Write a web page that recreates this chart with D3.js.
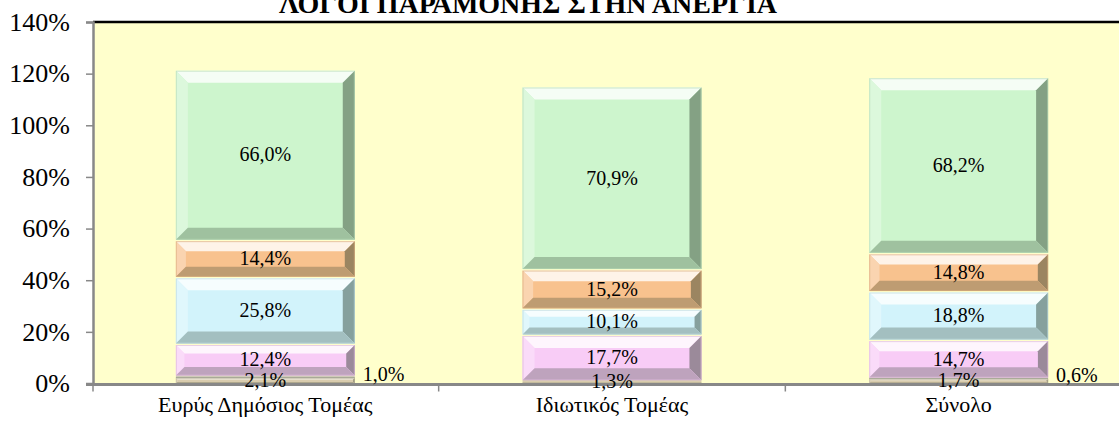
<!DOCTYPE html>
<html>
<head>
<meta charset="utf-8">
<script src="https://cdn.jsdelivr.net/npm/d3@7"></script>
<style>
  html, body { margin: 0; padding: 0; background: #ffffff; }
  svg { display: block; }
  text { font-family: "Liberation Serif", "Times New Roman", serif; fill: #000; }
</style>
</head>
<body>
<svg id="chart" width="1119" height="421"></svg>
<script>
// Reasons for remaining unemployed, by sector (stacked shares)
const categories = ["Ευρύς Δημόσιος Τομέας", "Ιδιωτικός Τομέας", "Σύνολο"];
const seriesA = [2.1, 1.3, 1.7];    // bottom thin segment
const seriesB = [1.0, 0.0, 0.6];    // thin segment, labelled beside the bar
const seriesC = [12.4, 17.7, 14.7]; // pink
const seriesD = [25.8, 10.1, 18.8]; // light blue
const seriesE = [14.4, 15.2, 14.8]; // orange
const seriesF = [66.0, 70.9, 68.2]; // green
const yTicks = [0, 20, 40, 60, 80, 100, 120, 140];
const title = "ΛΟΓΟΙ ΠΑΡΑΜΟΝΗΣ ΣΤΗΝ ΑΝΕΡΓΙΑ";

const seriesList = [
  { key: "a", values: seriesA, color: "#d9ccae", side: false },
  { key: "b", values: seriesB, color: "#cfcbb8", side: true },
  { key: "c", values: seriesC, color: "#f8ccf6", side: false },
  { key: "d", values: seriesD, color: "#d2f3fb", side: false },
  { key: "e", values: seriesE, color: "#f8c28e", side: false },
  { key: "f", values: seriesF, color: "#cdf5cd", side: false }
];

const W = 1119, H = 421;
const plot = { left: 93, top: 22, bottom: 383.5, right: 1132 };
const serif = '"Liberation Serif", "Times New Roman", serif';

const svg = d3.select("#chart");

const rows = categories.map((c, i) => {
  const r = { cat: c };
  seriesList.forEach(s => r[s.key] = s.values[i]);
  return r;
});
const stack = d3.stack().keys(seriesList.map(s => s.key))(rows);

const y = d3.scaleLinear().domain([0, 140]).range([plot.bottom, plot.top]);
const x = d3.scaleBand().domain(categories).range([plot.left - 1, plot.right])
  .paddingInner(0.484).paddingOuter(0.242);

// plot background
svg.append("rect")
  .attr("x", plot.left).attr("y", plot.top)
  .attr("width", W - plot.left).attr("height", plot.bottom - plot.top)
  .attr("fill", "#ffffcc");

// top border of plot area
svg.append("line")
  .attr("x1", plot.left).attr("x2", W)
  .attr("y1", plot.top).attr("y2", plot.top)
  .attr("stroke", "#000").attr("stroke-width", 2.5);

// title (partly above the canvas)
svg.append("text")
  .attr("x", 528).attr("y", 13)
  .attr("text-anchor", "middle")
  .style("font-family", serif)
  .attr("font-size", 28).attr("font-weight", "bold")
  .text(title);

// bevelled segment drawing
function shade(c, k) { return d3.interpolateRgb(c, k > 0 ? "#ffffff" : "#2a3a2a")(Math.abs(k)); }

const gBars = svg.append("g");
stack.forEach((layer, li) => {
  const s = seriesList[li];
  layer.forEach((d, i) => {
    const v = d[1] - d[0];
    if (v <= 0) return;
    const x0 = x(categories[i]), w = x.bandwidth();
    const yTop = y(d[1]), yBot = y(d[0]);
    const h = yBot - yTop;
    const g = gBars.append("g");
    const gap = h > 6 ? 1.5 : 0;
    const t = yTop + gap, bH = h - gap;
    const b = Math.max(0.5, Math.min(12, bH * 0.28));
    // face
    g.append("rect").attr("x", x0).attr("y", t).attr("width", w).attr("height", bH)
      .attr("fill", s.color);
    if (bH < 4) {
      g.append("rect").attr("x", x0).attr("y", t + bH - 1).attr("width", w).attr("height", 1)
        .attr("fill", shade(s.color, -0.25));
      return;
    }
    const L = x0, R = x0 + w, T = t, B = t + bH;
    // top highlight
    g.append("polygon")
      .attr("points", [[L, T], [R, T], [R - b, T + b], [L + b, T + b]].join(" "))
      .attr("fill", shade(s.color, 0.8));
    // left edge
    g.append("polygon")
      .attr("points", [[L, T], [L + b, T + b], [L + b, B - b], [L, B]].join(" "))
      .attr("fill", shade(s.color, 0.3));
    // right edge
    g.append("polygon")
      .attr("points", [[R, T], [R, B], [R - b, B - b], [R - b, T + b]].join(" "))
      .attr("fill", shade(s.color, -0.45));
    // bottom edge
    g.append("polygon")
      .attr("points", [[L, B], [R, B], [R - b, B - b], [L + b, B - b]].join(" "))
      .attr("fill", shade(s.color, -0.28));
    // soft outline
    g.append("rect").attr("x", L + 0.5).attr("y", T + 0.5).attr("width", w - 1).attr("height", bH - 1)
      .attr("fill", "none").attr("stroke", shade(s.color, -0.15)).attr("stroke-width", 1).attr("opacity", 0.6);
  });
});

// y axis
const yAxis = svg.append("g").attr("transform", `translate(${plot.left},0)`)
  .call(d3.axisLeft(y).tickValues(yTicks).tickFormat(d => d + "%").tickSize(7).tickPadding(16));
yAxis.attr("font-family", serif).attr("font-size", 26);
yAxis.select(".domain").attr("stroke", "#888").attr("stroke-width", 2.5);
yAxis.selectAll(".tick line").attr("stroke", "#888").attr("stroke-width", 1.5);
yAxis.selectAll(".tick text")
  .style("font-family", serif).style("font-size", "26px").attr("fill", "#000");

// x axis line with separator ticks between categories
svg.append("line")
  .attr("x1", plot.left - 7).attr("x2", W)
  .attr("y1", plot.bottom + 1).attr("y2", plot.bottom + 1)
  .attr("stroke", "#888").attr("stroke-width", 3);
const sepTicks = categories.map(c => x(c) - x.step() * x.paddingInner() / 2);
sepTicks[0] = plot.left;
svg.append("g").selectAll("line").data(sepTicks).join("line")
  .attr("x1", d => d).attr("x2", d => d)
  .attr("y1", plot.bottom + 1).attr("y2", plot.bottom + 8)
  .attr("stroke", "#888").attr("stroke-width", 1.5);
svg.append("g").selectAll("text").data(categories).join("text")
  .attr("x", d => x(d) + x.bandwidth() / 2)
  .attr("y", 412)
  .attr("text-anchor", "middle")
  .style("font-family", serif)
  .attr("font-size", 22)
  .text(d => d);

// value labels
const fmt = v => v.toFixed(1).replace(".", ",") + "%";
const gLab = svg.append("g");
stack.forEach((layer, li) => {
  const s = seriesList[li];
  layer.forEach((d, i) => {
    const v = s.values[i];
    if (v <= 0) return;
    const mid = (y(d[0]) + y(d[1])) / 2;
    const lbl = gLab.append("text")
      .style("font-family", serif)
      .attr("font-size", 20)
      .attr("dominant-baseline", "central")
      .text(fmt(v));
    if (s.side) {
      lbl.attr("x", x(categories[i]) + x.bandwidth() + 8).attr("y", mid - 3).attr("text-anchor", "start");
    } else {
      lbl.attr("x", x(categories[i]) + x.bandwidth() / 2).attr("y", mid - (v < 5 ? 1 : 0)).attr("text-anchor", "middle");
    }
  });
});
</script>
</body>
</html>
